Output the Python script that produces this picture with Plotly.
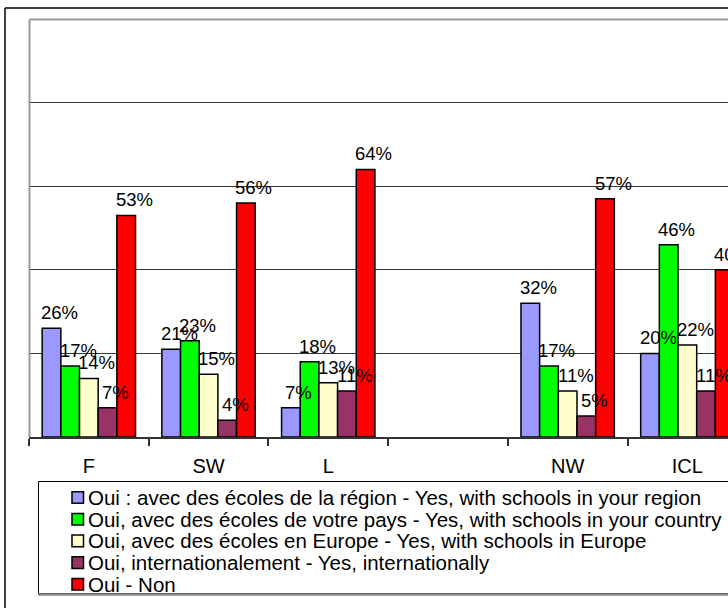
import plotly.graph_objects as go

categories = ["F", "SW", "L", " ", "NW", "ICL"]
series_names = [
    "Oui : avec des écoles de la région - Yes, with schools in your region",
    "Oui, avec des écoles de votre pays - Yes, with schools in your country",
    "Oui, avec des écoles en Europe - Yes, with schools in Europe",
    "Oui, internationalement - Yes, internationally",
    "Oui - Non",
]
region_vals = [26, 21, 7, None, 32, 20]
country_vals = [17, 23, 18, None, 17, 46]
europe_vals = [14, 15, 13, None, 11, 22]
intl_vals = [7, 4, 11, None, 5, 11]
non_vals = [53, 56, 64, None, 57, 40]
series_values = [region_vals, country_vals, europe_vals, intl_vals, non_vals]
colors = ["#9999FF", "#00FF00", "#FFFFCC", "#993366", "#FF0000"]

W, H = 728, 608
L, T, B = 29, 19, 437
R = W
BARGAP = 0.22


def px(x):
    return (x - L) / (R - L)


def py(y):
    return (B - y) / (B - T)


fig = go.Figure()
for name, vals, col in zip(series_names, series_values, colors):
    fig.add_trace(go.Bar(
        x=categories, y=vals, name=name, marker_color=col,
        marker_line_color="black", marker_line_width=1.5,
        showlegend=False,
    ))

# data labels
n = len(series_values)
bw = (1 - BARGAP) / n
annotations = []
for j, vals in enumerate(series_values):
    for i, v in enumerate(vals):
        if v is None:
            continue
        annotations.append(dict(
            x=i - (1 - BARGAP) / 2 + bw * (j + 0.5), y=v, xref="x", yref="y",
            text=f"{v}%", showarrow=False, xanchor="center", yanchor="bottom",
            xshift=8, yshift=3,
            font=dict(family="Liberation Sans, Arial", size=18.5, color="black"),
        ))

shapes = []
# outer frame
shapes.append(dict(type="line", xref="paper", yref="paper", x0=px(5), x1=px(800), y0=py(8), y1=py(8),
                   line=dict(color="black", width=1.5), layer="above"))
shapes.append(dict(type="line", xref="paper", yref="paper", x0=px(5), x1=px(5), y0=py(8), y1=py(640),
                   line=dict(color="black", width=1.5), layer="above"))
# plot area border (gray)
shapes.append(dict(type="line", xref="paper", yref="paper", x0=px(29.5), x1=px(800), y0=py(19.5), y1=py(19.5),
                   line=dict(color="#999999", width=2), layer="above"))
shapes.append(dict(type="line", xref="paper", yref="paper", x0=px(29.5), x1=px(29.5), y0=py(19.5), y1=py(437),
                   line=dict(color="#999999", width=2), layer="above"))
# legend box
shapes.append(dict(type="rect", xref="paper", yref="paper", x0=px(38.5), x1=px(800), y0=py(481.5), y1=py(593.5),
                   line=dict(color="black", width=1), fillcolor="white", layer="above"))
shapes.append(dict(type="line", xref="paper", yref="paper", x0=px(38), x1=px(800), y0=py(594.5), y1=py(594.5),
                   line=dict(color="#888888", width=2.5), layer="above"))

row0, row_step = 497.5, 21.7
for k, (name, col) in enumerate(zip(series_names, colors)):
    yc = row0 + row_step * k
    shapes.append(dict(type="rect", xref="paper", yref="paper",
                       x0=px(72), x1=px(83.5), y0=py(yc - 5.8), y1=py(yc + 5.8),
                       line=dict(color="black", width=1.5), fillcolor=col, layer="above"))
    annotations.append(dict(
        x=px(86), y=py(yc), xref="paper", yref="paper", text=name, showarrow=False,
        xanchor="left", yanchor="middle",
        font=dict(family="Liberation Sans, Arial", size=20.5, color="black"),
    ))

fig.update_layout(
    width=W, height=H,
    margin=dict(l=L, r=W - R, t=T, b=H - B, autoexpand=False),
    paper_bgcolor="white", plot_bgcolor="white",
    barmode="group", bargap=BARGAP, bargroupgap=0,
    showlegend=False,
    font=dict(family="Liberation Sans, Arial", size=20, color="black"),
    xaxis=dict(
        type="category", range=[-0.5, -0.5 + (R - L) / 119.7],
        showline=True, linecolor="#333333", linewidth=1.5,
        ticks="outside", tickson="boundaries", ticklen=7, tickcolor="#333333", tickwidth=1.5,
        showgrid=False, tickfont=dict(size=20, color="black"), ticklabelstandoff=10,
    ),
    yaxis=dict(
        range=[0, 100], dtick=20, showticklabels=False, showgrid=True,
        gridcolor="#333333", gridwidth=1, zeroline=False, showline=False,
    ),
    shapes=shapes,
    annotations=annotations,
)

fig.write_html(
    "out.html",
    config={"displayModeBar": False},
    post_script="document.body.style.margin='0';document.body.style.padding='0';",
)
